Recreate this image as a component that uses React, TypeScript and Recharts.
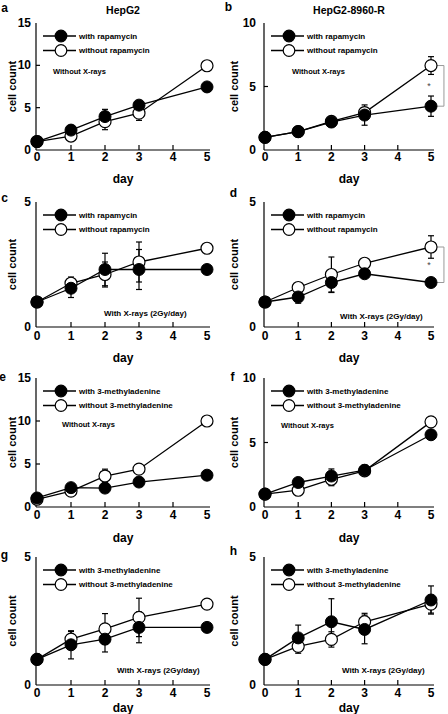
import React from 'react';
import { LineChart, Line, XAxis, YAxis, ErrorBar, Legend, ReferenceLine, ReferenceDot } from 'recharts';

// ---------- data ----------
const DAYS = [0, 1, 2, 3, 5];
const X_TICKS = [0, 1, 2, 3, 4, 5];
const Y15 = [0, 5, 10, 15];
const Y10 = [0, 5, 10];
const Y5 = [0, 5];

const LEG_RAPA = ['with rapamycin', 'without rapamycin'];
const LEG_3MA = ['with 3-methyladenine', 'without 3-methyladenine'];
const NOTE_NO = 'Without X-rays';
const NOTE_X = 'With X-rays (2Gy/day)';
const TITLES = ['HepG2', 'HepG2-8960-R'];

// a: HepG2, rapamycin, no X-rays
const A_WITH = [1.0, 2.35, 3.95, 5.3, 7.45];
const A_WITH_ERR = [0, 0.25, 0.85, 0.3, 0];
const A_WITHOUT = [1.0, 1.65, 3.35, 4.35, 9.95];
const A_WITHOUT_ERR = [0, 0.2, 0.95, 0.85, 0];
// b: HepG2-8960-R, rapamycin, no X-rays
const B_WITH = [1.0, 1.45, 2.2, 2.75, 3.45];
const B_WITH_ERR = [0, 0.1, 0.15, 0.8, 0.8];
const B_WITHOUT = [1.0, 1.45, 2.25, 2.95, 6.65];
const B_WITHOUT_ERR = [0, 0.1, 0.1, 0.4, 0.7];
// c: HepG2, rapamycin, X-rays
const C_WITH = [1.0, 1.55, 2.3, 2.3, 2.3];
const C_WITH_ERR = [0, 0.37, 0.65, 0.8, 0];
const C_WITHOUT = [1.0, 1.75, 2.1, 2.6, 3.15];
const C_WITHOUT_ERR = [0, 0.25, 0.5, 0.8, 0];
// d: HepG2-8960-R, rapamycin, X-rays
const D_WITH = [1.0, 1.2, 1.78, 2.13, 1.78];
const D_WITH_ERR = [0, 0.25, 0.4, 0.1, 0.1];
const D_WITHOUT = [1.0, 1.58, 2.1, 2.55, 3.2];
const D_WITHOUT_ERR = [0, 0.1, 0.7, 0.1, 0.45];
// e: HepG2, 3-MA, no X-rays
const E_WITH = [1.05, 2.25, 2.2, 2.9, 3.7];
const E_WITH_ERR = [0, 0.2, 0.3, 0.3, 0.3];
const E_WITHOUT = [0.9, 1.85, 3.6, 4.4, 10.0];
const E_WITHOUT_ERR = [0, 0.2, 0.8, 0.4, 0];
// f: HepG2-8960-R, 3-MA, no X-rays
const F_WITH = [1.0, 1.9, 2.4, 2.85, 5.6];
const F_WITH_ERR = [0, 0.15, 0.55, 0.4, 0];
const F_WITHOUT = [1.0, 1.3, 2.15, 2.8, 6.6];
const F_WITHOUT_ERR = [0, 0.1, 0.5, 0.3, 0];
// g: HepG2, 3-MA, X-rays
const G_WITH = [1.0, 1.57, 1.79, 2.25, 2.25];
const G_WITH_ERR = [0, 0.55, 0.5, 0.6, 0];
const G_WITHOUT = [1.0, 1.79, 2.19, 2.64, 3.16];
const G_WITHOUT_ERR = [0, 0.3, 0.6, 0.75, 0];
// h: HepG2-8960-R, 3-MA, X-rays
const H_WITH = [1.0, 1.84, 2.47, 2.17, 3.32];
const H_WITH_ERR = [0, 0.5, 0.9, 0.56, 0.55];
const H_WITHOUT = [1.0, 1.51, 1.78, 2.47, 3.16];
const H_WITHOUT_ERR = [0, 0.27, 0.3, 0.33, 0.35];

// ---------- layout ----------
const FONT = '"Liberation Sans", Arial, Helvetica, sans-serif';
const PANEL_W = 224;
const COL_X = [0, 224];
const PLOT_LEFT = [36, 40];
const PLOT_RIGHT = 210;
const Y_GAP = [5, 8];
const YLABEL_X = [12, 10];
const ROW_TOP = [23, 202, 378, 557];
const ROW_BOTTOM = [150, 327, 507, 685];
const TOP_PAD = 23;
const XAXIS_H = [40, 40, 40, 29];
const DAY_OFF = [29, 31, 31, 23];
const TICK_OFF = [7, 9, 8, 8];

type PanelDef = {
  id: string; row: number; col: number; yMax: number; yTicks: number[];
  leg: string[]; note: string; noteX: number; noteY: number;
  w: number[]; we: number[]; o: number[]; oe: number[]; sig: boolean;
  letterX: number; letterY: number;
};

const PANELS: PanelDef[] = [
  { id: 'a', row: 0, col: 0, yMax: 15, yTicks: Y15, leg: LEG_RAPA, note: NOTE_NO, noteX: 17, noteY: 49, w: A_WITH, we: A_WITH_ERR, o: A_WITHOUT, oe: A_WITHOUT_ERR, sig: false, letterX: 4.5, letterY: 8 },
  { id: 'b', row: 0, col: 1, yMax: 10, yTicks: Y10, leg: LEG_RAPA, note: NOTE_NO, noteX: 28, noteY: 49, w: B_WITH, we: B_WITH_ERR, o: B_WITHOUT, oe: B_WITHOUT_ERR, sig: true, letterX: 4.5, letterY: 7 },
  { id: 'c', row: 1, col: 0, yMax: 5, yTicks: Y5, leg: LEG_RAPA, note: NOTE_X, noteX: 68, noteY: 112, w: C_WITH, we: C_WITH_ERR, o: C_WITHOUT, oe: C_WITHOUT_ERR, sig: false, letterX: 4.5, letterY: 19 },
  { id: 'd', row: 1, col: 1, yMax: 5, yTicks: Y5, leg: LEG_RAPA, note: NOTE_X, noteX: 76, noteY: 115, w: D_WITH, we: D_WITH_ERR, o: D_WITHOUT, oe: D_WITHOUT_ERR, sig: true, letterX: 9.5, letterY: 14 },
  { id: 'e', row: 2, col: 0, yMax: 15, yTicks: Y15, leg: LEG_3MA, note: NOTE_NO, noteX: 26, noteY: 47, w: E_WITH, we: E_WITH_ERR, o: E_WITHOUT, oe: E_WITHOUT_ERR, sig: false, letterX: 2.5, letterY: 22 },
  { id: 'f', row: 2, col: 1, yMax: 10, yTicks: Y10, leg: LEG_3MA, note: NOTE_NO, noteX: 17, noteY: 48, w: F_WITH, we: F_WITH_ERR, o: F_WITHOUT, oe: F_WITHOUT_ERR, sig: false, letterX: 8.5, letterY: 22 },
  { id: 'g', row: 3, col: 0, yMax: 5, yTicks: Y5, leg: LEG_3MA, note: NOTE_X, noteX: 81, noteY: 114, w: G_WITH, we: G_WITH_ERR, o: G_WITHOUT, oe: G_WITHOUT_ERR, sig: false, letterX: 4.5, letterY: 21 },
  { id: 'h', row: 3, col: 1, yMax: 5, yTicks: Y5, leg: LEG_3MA, note: NOTE_X, noteX: 78, noteY: 114, w: H_WITH, we: H_WITH_ERR, o: H_WITHOUT, oe: H_WITHOUT_ERR, sig: false, letterX: 9.5, letterY: 17 },
];

const txt = { fontFamily: FONT, fontWeight: 'bold' as const, fill: '#000' };

const XTick = (props: any) => {
  const { x, y, payload, off } = props;
  const v = payload.value;
  return (
    <g>
      {v !== 0 && v !== 5 && <line x1={x} x2={x} y1={y} y2={y - 5} stroke="#000" strokeWidth={1.2} />}
      <text x={x} y={y + off} textAnchor="middle" dominantBaseline="central" fontSize={12} {...txt}>{v}</text>
    </g>
  );
};

const YTick = (props: any) => {
  const { x, y, payload, gap, max } = props;
  const v = payload.value;
  return (
    <g>
      {v !== 0 && v !== max && <line x1={x} x2={x + 4} y1={y} y2={y} stroke="#000" strokeWidth={1.2} />}
      <text x={x - gap} y={y} textAnchor="end" dominantBaseline="central" fontSize={12} {...txt}>{v}</text>
    </g>
  );
};

const RTick = (props: any) => {
  const { x, y, payload, max } = props;
  const v = payload.value;
  if (v === 0 || v === max) return <g />;
  return <line x1={x} x2={x - 3} y1={y} y2={y} stroke="#000" strokeWidth={1} />;
};

const DayLabel = (props: any) => (
  <text x={props.lx} y={props.ly} textAnchor="middle" dominantBaseline="central" fontSize={12} {...txt}>day</text>
);

const YLabel = (props: any) => (
  <text x={props.lx} y={props.ly} transform={`rotate(-90 ${props.lx} ${props.ly})`} textAnchor="middle" dominantBaseline="central" fontSize={11} {...txt}>cell count</text>
);

const LegendBox = ({ names }: { names: string[] }) => (
  <svg width={170} height={32} style={{ display: 'block', overflow: 'visible' }}>
    {names.map((n, i) => {
      const y = 6 + i * 14.5;
      return (
        <g key={n}>
          <line x1={0} x2={33} y1={y} y2={y} stroke="#000" strokeWidth={1.3} />
          <circle cx={18} cy={y} r={5.8} fill={i === 0 ? '#000' : '#fff'} stroke="#000" strokeWidth={1.2} />
          <text x={36} y={y} dominantBaseline="central" fontSize={8} {...txt}>{n}</text>
        </g>
      );
    })}
  </svg>
);

function Panel({ p }: { p: PanelDef }) {
  const top = ROW_TOP[p.row] - TOP_PAD;
  const plotH = ROW_BOTTOM[p.row] - ROW_TOP[p.row];
  const xh = XAXIS_H[p.row];
  const h = TOP_PAD + plotH + xh;
  const pl = PLOT_LEFT[p.col];
  const midX = (pl + PLOT_RIGHT) / 2;
  const data = DAYS.map((d, i) => ({ day: d, w: p.w[i], we: p.we[i], o: p.o[i], oe: p.oe[i] }));
  const last = DAYS.length - 1;
  const sigTop = p.o[last];
  const sigBot = p.w[last];
  return (
    <div style={{ position: 'absolute', left: COL_X[p.col], top, width: PANEL_W, height: h }}>
      <LineChart width={PANEL_W} height={h} data={data} margin={{ top: TOP_PAD, right: PANEL_W - PLOT_RIGHT, bottom: 0, left: 0 }}>
        <XAxis
          dataKey="day" type="number" domain={[0, 5]} ticks={X_TICKS} interval={0}
          padding={{ left: 1, right: 3 }} height={xh} tickSize={0} tickMargin={0} tickLine={false}
          axisLine={{ stroke: '#000', strokeWidth: 1.2 }}
          tick={<XTick off={TICK_OFF[p.row]} />}
          label={<DayLabel lx={midX} ly={plotH + TOP_PAD + DAY_OFF[p.row]} />}
        />
        <XAxis xAxisId="top" orientation="top" type="number" domain={[0, 5]} height={0} tick={false} tickLine={false} axisLine={{ stroke: '#000', strokeWidth: 1.2 }} />
        <YAxis
          type="number" domain={[0, p.yMax]} ticks={p.yTicks} interval={0} width={pl}
          tickSize={0} tickMargin={0} tickLine={false} axisLine={{ stroke: '#000', strokeWidth: 1.2 }}
          tick={<YTick gap={Y_GAP[p.col]} max={p.yMax} />}
          label={<YLabel lx={YLABEL_X[p.col]} ly={TOP_PAD + plotH / 2} />}
        />
        <YAxis yAxisId="right" orientation="right" type="number" domain={[0, p.yMax]} ticks={p.yTicks} interval={0} width={0} tickSize={0} tickMargin={0} tickLine={false} axisLine={{ stroke: '#000', strokeWidth: 1.2 }} tick={<RTick max={p.yMax} />} />
        <Legend
          layout="horizontal" verticalAlign="middle" align="center"
          content={() => <LegendBox names={p.leg} />}
          wrapperStyle={{ position: 'absolute', left: pl + 7, top: TOP_PAD + 13 - 6, width: 170, height: 32, margin: 0, padding: 0 }}
        />
        <Line dataKey="o" name={p.leg[1]} stroke="#000" strokeWidth={1.3} isAnimationActive={false} activeDot={false}
          dot={{ r: 6, fill: '#fff', stroke: '#000', strokeWidth: 1.2 }}>
          <ErrorBar dataKey="oe" direction="y" width={3} stroke="#000" strokeWidth={1.2} />
        </Line>
        <Line dataKey="w" name={p.leg[0]} stroke="#000" strokeWidth={1.3} isAnimationActive={false} activeDot={false}
          dot={{ r: 6, fill: '#000', stroke: '#000', strokeWidth: 1 }}>
          <ErrorBar dataKey="we" direction="y" width={3} stroke="#000" strokeWidth={1.2} />
        </Line>
        {p.sig && <ReferenceLine segment={[{ x: 5.39, y: sigTop }, { x: 5.39, y: sigBot }]} stroke="#999" strokeWidth={1} ifOverflow="visible" />}
        {p.sig && <ReferenceLine segment={[{ x: 5.18, y: sigTop }, { x: 5.39, y: sigTop }]} stroke="#999" strokeWidth={1} ifOverflow="visible" />}
        {p.sig && <ReferenceLine segment={[{ x: 5.18, y: sigBot }, { x: 5.39, y: sigBot }]} stroke="#999" strokeWidth={1} ifOverflow="visible" />}
        {p.sig && <ReferenceDot x={4.94} y={(sigTop + sigBot) / 2} r={1} fill="none" stroke="none" label={{ value: '*', position: 'center', fontSize: 9, fill: '#444', fontFamily: FONT }} />}
      </LineChart>
      <div style={{ position: 'absolute', left: pl + p.noteX, top: TOP_PAD + p.noteY, transform: 'translateY(-50%)', fontFamily: FONT, fontWeight: 'bold', fontSize: p.note === NOTE_NO ? 7.5 : 8, lineHeight: 1, whiteSpace: 'nowrap', color: '#000' }}>{p.note}</div>
      <div style={{ position: 'absolute', left: p.letterX, top: p.letterY, transform: 'translate(-50%, -50%)', fontFamily: FONT, fontWeight: 'bold', fontSize: 12, lineHeight: 1, color: '#000' }}>{p.id}</div>
      {p.row === 0 && (
        <div style={{ position: 'absolute', left: midX, top: 10, transform: 'translate(-50%, -50%)', fontFamily: FONT, fontWeight: 'bold', fontSize: 10.5, lineHeight: 1, whiteSpace: 'nowrap', color: '#000' }}>{TITLES[p.col]}</div>
      )}
    </div>
  );
}

export default function App() {
  return (
    <div style={{ position: 'absolute', left: 0, top: 0, width: 448, height: 714, background: '#fff', overflow: 'hidden' }}>
      {PANELS.map((p) => <Panel key={p.id} p={p} />)}
    </div>
  );
}
